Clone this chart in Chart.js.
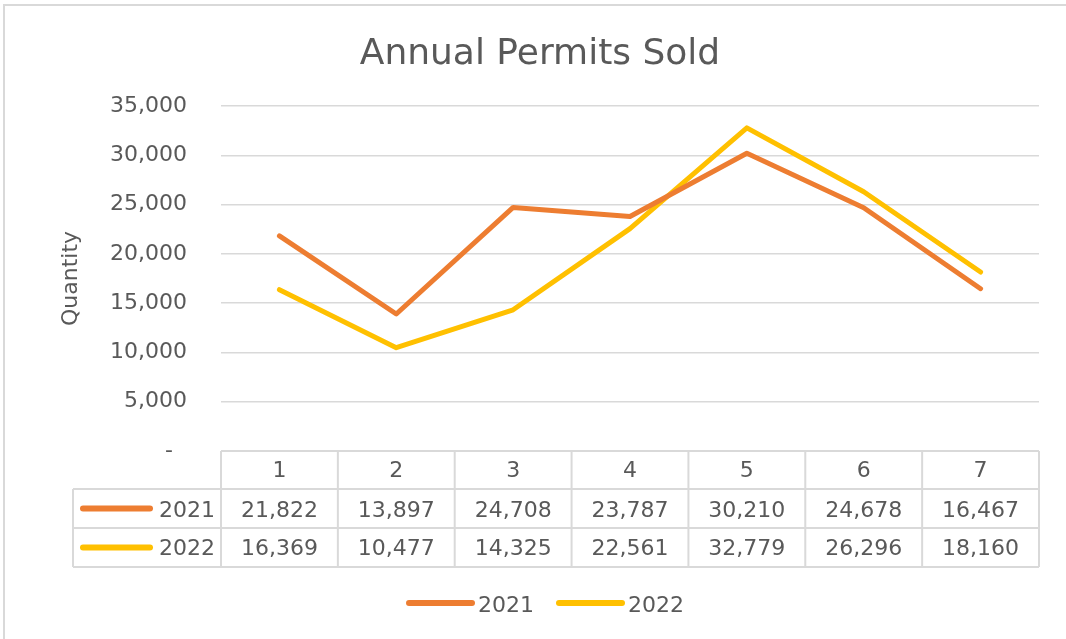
<!DOCTYPE html>
<html><head><meta charset="utf-8">
<script src="https://cdn.jsdelivr.net/npm/chart.js@4"></script>
<style>html,body{margin:0;padding:0;background:#fff}</style>
</head><body>
<canvas id="c" width="1066" height="639"></canvas>
<script>
const categories = ['1','2','3','4','5','6','7'];
const seriesNames = ['2021','2022'];
const values2021 = [21822,13897,24708,23787,30210,24678,16467];
const values2022 = [16369,10477,14325,22561,32779,26296,18160];
const seriesColors = ['#ED7D31','#FFC000'];
const chartTitle = 'Annual Permits Sold';
const yTitle = 'Quantity';
const yMin = 0, yMax = 35000, yStep = 5000;

const FONT = "'DejaVu Sans', sans-serif";
const TEXT = '#595959';
const GRID = '#d9d9d9';
const fmt = v => v.toLocaleString('en-US');

const tablePlugin = {
  id: 'tablePlugin',
  beforeDraw(chart) {
    const ctx = chart.ctx;
    ctx.save();
    ctx.fillStyle = '#fff';
    ctx.fillRect(0, 0, chart.width, chart.height);
    ctx.strokeStyle = GRID;
    ctx.lineWidth = 2;
    ctx.beginPath();
    ctx.moveTo(4, chart.height); ctx.lineTo(4, 5); ctx.lineTo(chart.width, 5);
    ctx.stroke();
    // title
    ctx.fillStyle = TEXT;
    ctx.font = "36px " + FONT;
    ctx.textAlign = 'center';
    ctx.textBaseline = 'alphabetic';
    ctx.fillText(chartTitle, 540, 64);
    ctx.restore();
  },
  afterDraw(chart) {
    const ctx = chart.ctx, xs = chart.scales.x, area = chart.chartArea;
    const n = categories.length;
    const colW = (area.right - area.left) / n;
    const top = area.bottom;
    const rows = [top, top + 38, top + 77, top + 116];
    const legLeft = 73;
    ctx.save();
    ctx.strokeStyle = GRID;
    ctx.lineWidth = 2;
    ctx.beginPath();
    ctx.moveTo(area.left, rows[0]); ctx.lineTo(area.right, rows[0]);
    for (let r = 1; r < 4; r++) { ctx.moveTo(legLeft, rows[r]); ctx.lineTo(area.right, rows[r]); }
    ctx.moveTo(legLeft, rows[1]); ctx.lineTo(legLeft, rows[3]);
    for (let i = 0; i <= n; i++) {
      const x = (i < n ? xs.getPixelForValue(i) - colW / 2 : xs.getPixelForValue(n - 1) + colW / 2);
      ctx.moveTo(x, rows[0]); ctx.lineTo(x, rows[3]);
    }
    ctx.stroke();

    ctx.fillStyle = TEXT;
    ctx.font = "22px " + FONT;
    ctx.textAlign = 'center';
    ctx.textBaseline = 'alphabetic';
    categories.forEach((c, i) => ctx.fillText(c, xs.getPixelForValue(i), rows[0] + 26));
    const baselines = [rows[1] + 28, rows[2] + 27];
    chart.data.datasets.forEach((ds, d) => {
      ds.data.forEach((v, i) => {
        ctx.fillStyle = TEXT;
        ctx.textAlign = 'center';
        ctx.fillText(fmt(v), xs.getPixelForValue(i), baselines[d]);
      });
      const cy = (rows[d + 1] + rows[d + 2]) / 2;
      ctx.strokeStyle = ds.borderColor;
      ctx.lineWidth = 6; ctx.lineCap = 'round';
      ctx.beginPath(); ctx.moveTo(83, cy); ctx.lineTo(150, cy); ctx.stroke();
      ctx.fillStyle = TEXT;
      ctx.textAlign = 'right';
      ctx.fillText(ds.label, area.left - 6, baselines[d]);
    });

    // bottom legend
    const ly = 603;
    const gap = 22;
    const items = chart.data.datasets.map(ds => ({ ds, w: 69 + 3 + ctx.measureText(ds.label).width }));
    const total = items.reduce((a, b) => a + b.w, 0) + gap * (items.length - 1);
    let x = 545 - total / 2;
    ctx.textAlign = 'left';
    items.forEach(it => {
      ctx.strokeStyle = it.ds.borderColor;
      ctx.lineWidth = 6; ctx.lineCap = 'round';
      ctx.beginPath(); ctx.moveTo(x + 3, ly); ctx.lineTo(x + 66, ly); ctx.stroke();
      ctx.fillStyle = TEXT;
      ctx.fillText(it.ds.label, x + 72, ly + 9);
      x += it.w + gap;
    });
    ctx.restore();
  }
};

new Chart(document.getElementById('c'), {
  type: 'line',
  data: {
    labels: categories,
    datasets: [
      { label: seriesNames[0], data: values2021, borderColor: seriesColors[0], backgroundColor: seriesColors[0] },
      { label: seriesNames[1], data: values2022, borderColor: seriesColors[1], backgroundColor: seriesColors[1] }
    ]
  },
  options: {
    responsive: false,
    animation: false,
    devicePixelRatio: 1,
    layout: { padding: { left: 0, right: 27, top: 106, bottom: 0 } },
    elements: {
      line: { borderWidth: 5, tension: 0, borderCapStyle: 'round', borderJoinStyle: 'round' },
      point: { radius: 0, hoverRadius: 0 }
    },
    plugins: {
      legend: { display: false },
      tooltip: { enabled: false },
      title: { display: false }
    },
    scales: {
      x: {
        offset: true,
        grid: { display: false, drawTicks: false },
        border: { display: false },
        ticks: { display: false },
        afterFit(scale) { scale.height = 639 - 451; }
      },
      y: {
        min: yMin, max: yMax,
        ticks: {
          stepSize: yStep, color: TEXT, padding: 34,
          font: { family: FONT, size: 22 },
          callback: v => v === 0 ? '-  ' : fmt(v)
        },
        grid: { color: GRID, lineWidth: 1.5, drawTicks: false },
        border: { display: false },
        title: {
          display: true, text: yTitle, color: TEXT,
          font: { family: FONT, size: 22 }, padding: { top: 58, bottom: 0 }
        },
        afterFit(scale) { scale.width = 221; }
      }
    }
  },
  plugins: [tablePlugin]
});
</script>
</body></html>
